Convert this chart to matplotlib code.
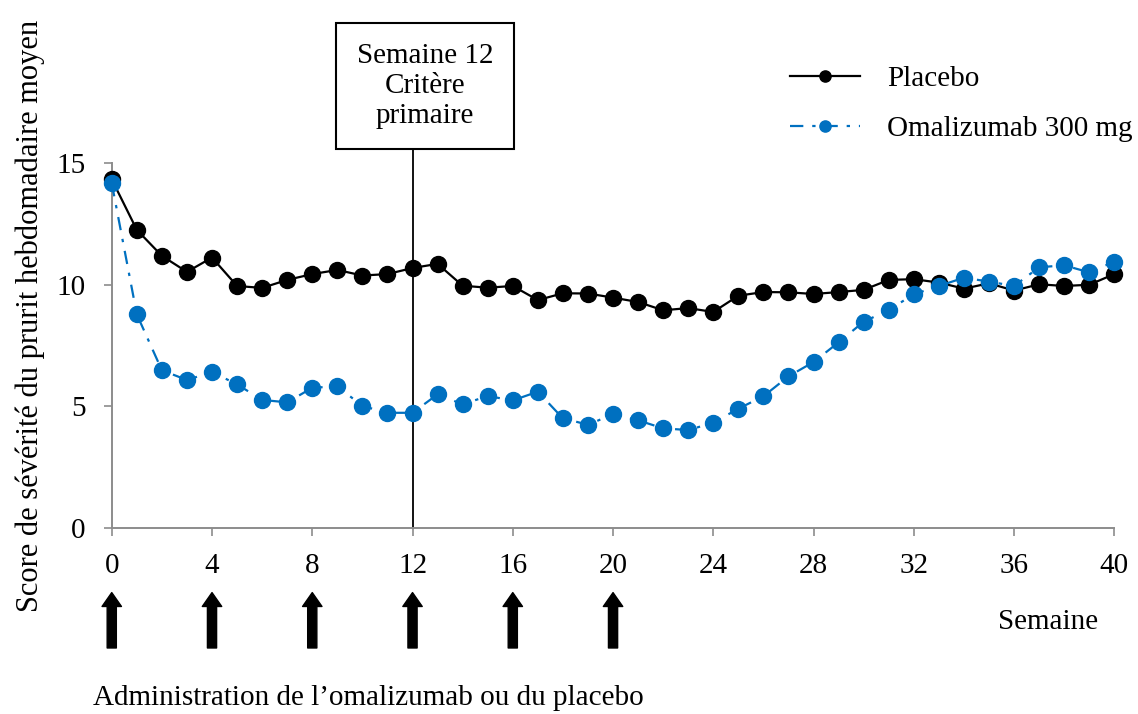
import numpy as np
import matplotlib
matplotlib.use("Agg")
import matplotlib.pyplot as plt

plt.rcParams["font.family"] = ["Liberation Serif", "DejaVu Serif"]

weeks = np.arange(0, 41)

placebo = [14.34, 12.26, 11.19, 10.53, 11.12, 9.95, 9.87, 10.20, 10.44, 10.61,
           10.38, 10.44, 10.69, 10.86, 9.96, 9.88, 9.95, 9.37, 9.65, 9.64,
           9.47, 9.29, 8.95, 9.04, 8.88, 9.55, 9.70, 9.69, 9.62, 9.70,
           9.79, 10.20, 10.23, 10.09, 9.84, 10.06, 9.76, 10.02, 9.95, 10.00,
           10.44]

omalizumab = [14.18, 8.78, 6.48, 6.08, 6.41, 5.90, 5.26, 5.16, 5.76, 5.82,
              5.01, 4.73, 4.73, 5.49, 5.08, 5.42, 5.24, 5.60, 4.50, 4.24,
              4.67, 4.42, 4.09, 4.02, 4.32, 4.90, 5.41, 6.23, 6.82, 7.63,
              8.48, 8.96, 9.61, 9.95, 10.29, 10.13, 9.95, 10.72, 10.80, 10.51,
              10.95]

dose_weeks = [0, 4, 8, 12, 16, 20]
xticks = np.arange(0, 41, 4)
yticks = [0, 5, 10, 15]

blue = "#0070C0"
grey = "#8C8C8C"
fs = 21

fig = plt.figure(figsize=(11.38, 7.14), dpi=100)
ax = fig.add_axes([0.0982, 0.2609, 0.8810, 0.5104])

ax.plot(weeks, placebo, color="black", lw=1.6, marker="o", ms=11.5,
        label="Placebo", clip_on=False, zorder=3)
ax.plot(weeks, omalizumab, color=blue, lw=1.6, ls=(0, (6, 4, 1.5, 4)),
        marker="o", ms=11.5, label="Omalizumab 300 mg", clip_on=False, zorder=4)

ax.set_xlim(0, 40)
ax.set_ylim(0, 15)
ax.set_xticks(xticks)
ax.set_yticks(yticks)
ax.tick_params(axis="both", labelsize=fs, color=grey, width=1.2, length=6)
ax.tick_params(axis="x", pad=12)
ax.tick_params(axis="y", pad=13)
for side in ["top", "right"]:
    ax.spines[side].set_visible(False)
for side in ["left", "bottom"]:
    ax.spines[side].set_color(grey)
    ax.spines[side].set_linewidth(1.4)

# week 12 marker and box
ax.axvline(12, ymin=0, ymax=1.042, color="black", lw=1.3, clip_on=False, zorder=2)
ax.text(12.5, 1.212, "Semaine 12\nCritère\nprimaire", transform=ax.get_xaxis_transform(),
        ha="center", va="center", fontsize=fs, linespacing=1.2,
        bbox=dict(boxstyle="square,pad=0.7", fc="white", ec="black", lw=1.5))

# dosing arrows
for w in dose_weeks:
    ax.annotate("", xy=(w, -0.178), xytext=(w, -0.33),
                xycoords=ax.get_xaxis_transform(), textcoords=ax.get_xaxis_transform(),
                arrowprops=dict(arrowstyle="simple,head_length=0.5,head_width=0.7,tail_width=0.33",
                                mutation_scale=20, fc="black", ec="black",
                                shrinkA=0, shrinkB=0))

fig.text(0.921, 0.129, "Semaine", fontsize=fs, ha="center", va="center")
fig.text(0.082, 0.022, "Administration de l\u2019omalizumab ou du placebo",
         fontsize=fs, ha="left", va="center")
fig.text(0.027, 0.557, "Score de sévérité du prurit hebdomadaire moyen",
         fontsize=22, rotation=90, ha="center", va="center")

leg = ax.legend(loc="upper left", bbox_to_anchor=(0.694, 0.908),
                bbox_transform=fig.transFigure, frameon=False, fontsize=fs,
                handlelength=2.4, handletextpad=0.95, labelspacing=0.8,
                borderpad=0, borderaxespad=0, markerscale=0.7)

fig.savefig("out.png", dpi=100)
